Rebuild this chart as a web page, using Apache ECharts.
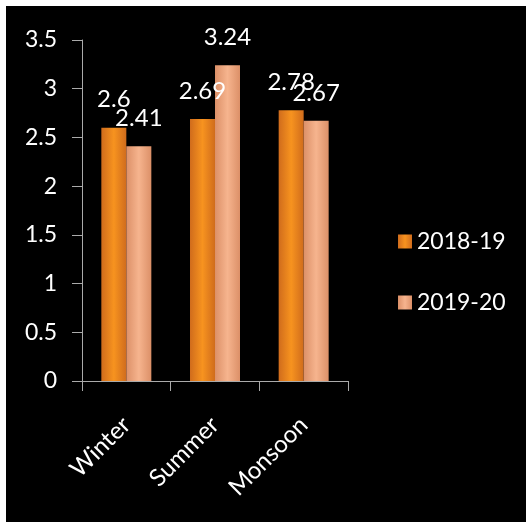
<!DOCTYPE html>
<html>
<head>
<meta charset="utf-8">
<script src="https://cdn.jsdelivr.net/npm/echarts@6/dist/echarts.min.js"></script>
<style>
    html, body { margin: 0; padding: 0; background: #fff; }
    #seasonChart { position: absolute; left: 6px; top: 6px; width: 520px; height: 516px; background: #000; }
</style>
</head>
<body>
<div id="seasonChart"></div>
<script>
let seasons = ['Winter', 'Summer', 'Monsoon'];
let values2018 = [2.6, 2.69, 2.78];
let values2019 = [2.41, 3.24, 2.67];
let seriesNames = ['2018-19', '2019-20'];

let seasonChart = echarts.init(document.getElementById('seasonChart'));

function barColor(dark, light) {
    return new echarts.graphic.LinearGradient(0, 0, 1, 0, [
        {offset: 0, color: dark},
        {offset: 0.5, color: light},
        {offset: 1, color: dark}
    ]);
}

let fontName = 'Lato, "Open Sans", sans-serif';

let seasonOption = {
    backgroundColor: '#000',
    animation: false,
    textStyle: {fontFamily: fontName},
    grid: {left: 76, top: 34, right: 178, bottom: 141},
    legend: {
        orient: 'vertical',
        left: 387,
        top: 219,
        itemWidth: 14,
        itemHeight: 14,
        itemGap: 38,
        icon: 'rect',
        data: seriesNames,
        textStyle: {color: '#fff', fontSize: 23, fontFamily: fontName}
    },
    xAxis: {
        type: 'category',
        data: seasons,
        axisLine: {lineStyle: {color: '#aaa', width: 1}},
        axisTick: {show: true, length: 10, lineStyle: {color: '#aaa'}},
        axisLabel: {
            color: '#fff',
            fontSize: 24,
            rotate: 45,
            margin: 40,
            fontFamily: fontName
        }
    },
    yAxis: {
        type: 'value',
        min: 0,
        max: 3.5,
        interval: 0.5,
        splitLine: {show: false},
        axisLine: {show: true, lineStyle: {color: '#aaa', width: 1}},
        axisTick: {show: true, length: 10, lineStyle: {color: '#aaa'}},
        axisLabel: {color: '#fff', fontSize: 23, margin: 25, fontFamily: fontName}
    },
    series: [
        {
            name: seriesNames[0],
            type: 'bar',
            data: values2018,
            barWidth: 25,
            barGap: '0%',
            itemStyle: {color: barColor('#d06c1c', '#f7931f')},
            label: {show: true, position: 'top', distance: 16, color: '#fff', fontSize: 24, fontFamily: fontName}
        },
        {
            name: seriesNames[1],
            type: 'bar',
            data: values2019,
            barWidth: 25,
            itemStyle: {color: barColor('#dc9068', '#f6b48e')},
            label: {show: true, position: 'top', distance: 16, color: '#fff', fontSize: 24, fontFamily: fontName}
        }
    ]
};

seasonChart.setOption(seasonOption);
</script>
</body>
</html>
